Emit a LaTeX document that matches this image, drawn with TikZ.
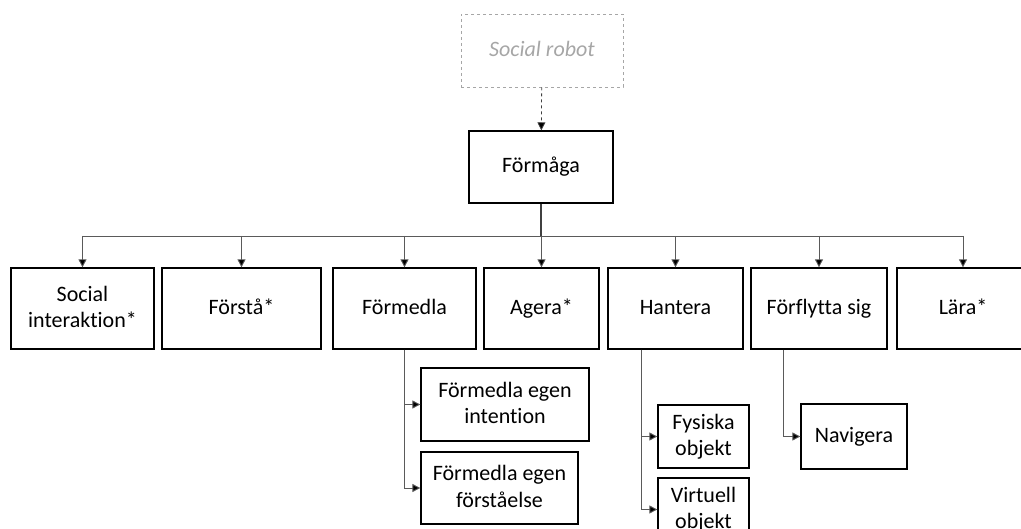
\documentclass[tikz,border=0pt]{standalone}
\usepackage{fontspec}
\setmainfont[Ligatures=NoCommon]{Carlito}
\usetikzlibrary{arrows.meta}
\definecolor{linegray}{HTML}{5A5A5A}
\definecolor{softgray}{HTML}{A6A6A6}
% fixed line strut, so every label sits at the same height in its box
\newcommand\ls{\rule[-4pt]{0pt}{20pt}}
\begin{document}
\begin{tikzpicture}[x=1pt,y=-1pt,
  box/.style={draw=black,line width=1.3pt,fill=white,inner sep=0pt,align=center,
    font=\fontsize{22}{26.5}\selectfont},
  ghost/.style={draw=softgray,dashed,line width=0.9pt,inner sep=0pt,align=center,
    font=\fontsize{22}{26.5}\selectfont\itshape,text=softgray},
  conn/.style={draw=linegray,line width=0.9pt},
  arr/.style={conn,-{Triangle[length=8pt,width=8pt,fill=black]}}]
\useasboundingbox (0,0) rectangle (1021,529);
\clip (0,0) rectangle (1021,529);

% root and the ability node
\node[ghost,minimum width=162pt,minimum height=73pt] (robot) at (542,50.5) {\ls Social robot};
\node[box,minimum width=144pt,minimum height=72pt] (formaga) at (541,167) {\ls Förmåga};

% first level
\node[box,minimum width=143pt,minimum height=81pt] (social) at (82.5,308.5) {\ls Social\\\ls interaktion*};
\node[box,minimum width=159pt,minimum height=81pt] (forsta) at (241.5,308.5) {\ls Förstå*};
\node[box,minimum width=143pt,minimum height=81pt] (formedla) at (404.5,308.5) {\ls Förmedla};
\node[box,minimum width=115pt,minimum height=81pt] (agera) at (541.5,308.5) {\ls Agera*};
\node[box,minimum width=135pt,minimum height=81pt] (hantera) at (675.5,308.5) {\ls Hantera};
\node[box,minimum width=136pt,minimum height=81pt] (forflytta) at (819,308.5) {\ls Förflytta sig};
\node[box,minimum width=132pt,minimum height=81pt] (lara) at (963,308.5) {\ls Lära*};

% second level
\node[box,minimum width=168pt,minimum height=73pt] (intention) at (505,404.5) {\ls Förmedla egen\\\ls intention};
\node[box,minimum width=157pt,minimum height=72pt] (forstaelse) at (499.5,488) {\ls Förmedla egen\\\ls förståelse};
\node[box,minimum width=91pt,minimum height=63pt] (fysiska) at (703.5,436.5) {\ls Fysiska\\\ls objekt};
\node[box,minimum width=91pt,minimum height=63pt] (virtuell) at (703.5,509.5) {\ls Virtuell\\\ls objekt};
\node[box,minimum width=106pt,minimum height=65pt] (navigera) at (854,436.5) {\ls Navigera};

% connectors
\draw[arr,draw=black!75,dashed,line width=0.8pt] (robot) -- (formaga);
\coordinate (bus) at (541,236);
\draw[conn,draw=black!75,line width=1.2pt] (formaga.south) -- (bus);
\draw[conn] (bus -| social.north) -- (bus -| lara.north);
\foreach \n in {social,forsta,formedla,agera,hantera,forflytta,lara}
  \draw[arr] (bus -| \n.north) -- (\n.north);

\draw[arr] (formedla.south) |- (intention.west);
\draw[arr] (formedla.south) |- (forstaelse.west);
\coordinate (hb) at ([xshift=34pt]hantera.south west);
\draw[arr] (hb) |- (fysiska.west);
\draw[arr] (hb) |- (virtuell.west);
\coordinate (fb) at ([xshift=33pt]forflytta.south west);
\draw[arr] (fb) |- (navigera.west);
\end{tikzpicture}
\end{document}
